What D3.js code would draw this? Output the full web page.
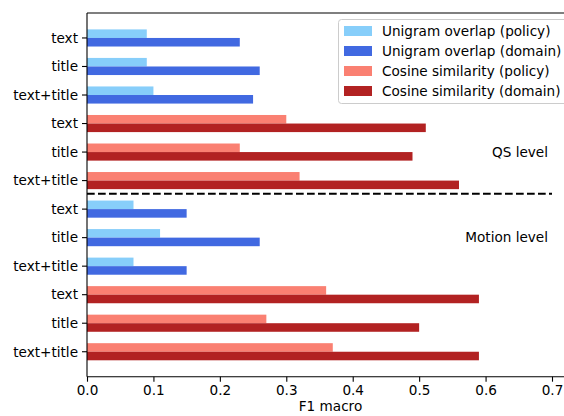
<!DOCTYPE html>
<html><head><meta charset="utf-8">
<script src="https://cdn.jsdelivr.net/npm/d3@7"></script>
<style>body{margin:0;background:#fff}svg{display:block;font-family:"DejaVu Sans",sans-serif}</style>
</head><body><svg id="c" width="564" height="416"></svg>
<script>
const categories = ["text","title","text+title","text","title","text+title","text","title","text+title","text","title","text+title"];
const policyValues = [0.09,0.09,0.10,0.30,0.23,0.32,0.07,0.11,0.07,0.36,0.27,0.37];
const domainValues = [0.23,0.26,0.25,0.51,0.49,0.56,0.15,0.26,0.15,0.59,0.50,0.59];
const groupType = ["uni","uni","uni","cos","cos","cos","uni","uni","uni","cos","cos","cos"];
const xTicks = [0,0.1,0.2,0.3,0.4,0.5,0.6,0.7];
const legendLabels = ["Unigram overlap (policy)","Unigram overlap (domain)","Cosine similarity (policy)","Cosine similarity (domain)"];
const levelLabels = ["QS level","Motion level"];
const separatorPos = 5.46;

(function(){
const colors = {uni:["#87CEFA","#4169E1"], cos:["#FA8072","#B22222"]};
const legendColors = ["#87CEFA","#4169E1","#FA8072","#B22222"];
const fs = "13.6px";

const svg = d3.select("#c");
const mLeft = 87, mTop = 13, mBottom = 376.7, mRight = 574;
const x = d3.scaleLinear().domain([0,0.7]).range([mLeft,552]);
const y = d3.scaleLinear().domain([-0.875, 11.875]).range([mTop,mBottom]);
const bh = y(0.3)-y(0);

const g = svg.append("g");
categories.forEach((c,i)=>{
  g.append("rect").attr("x",x(0)).attr("y",y(i)-bh).attr("width",x(policyValues[i])-x(0)).attr("height",bh).attr("fill",colors[groupType[i]][0]);
  g.append("rect").attr("x",x(0)).attr("y",y(i)).attr("width",x(domainValues[i])-x(0)).attr("height",bh).attr("fill",colors[groupType[i]][1]);
});

svg.append("line").attr("x1",x(0)).attr("x2",x(0.7)).attr("y1",y(separatorPos)).attr("y2",y(separatorPos))
  .attr("stroke","#000").attr("stroke-width",2.1).attr("stroke-dasharray","7.7,3.3");

svg.append("line").attr("x1",mLeft).attr("x2",mLeft).attr("y1",mTop).attr("y2",mBottom).attr("stroke","#000").attr("stroke-width",1.1);
svg.append("line").attr("x1",mLeft).attr("x2",mRight).attr("y1",mTop).attr("y2",mTop).attr("stroke","#000").attr("stroke-width",1.1);

const xa = svg.append("g").attr("transform",`translate(0,${mBottom})`)
  .call(d3.axisBottom(x).tickValues(xTicks).tickFormat(d3.format(".1f")).tickSize(5).tickPadding(4).tickSizeOuter(0));
xa.select(".domain").attr("d",`M${mLeft},0H${mRight}`).attr("stroke","#000").attr("stroke-width",1.1);
xa.selectAll(".tick line").attr("stroke","#000").attr("stroke-width",1.1);
xa.selectAll("text").attr("font-size",fs).attr("fill","#000").attr("font-family","DejaVu Sans");

const ya = svg.append("g").attr("transform",`translate(${mLeft},0)`);
categories.forEach((c,i)=>{
  ya.append("line").attr("x1",-5).attr("x2",0).attr("y1",y(i)).attr("y2",y(i)).attr("stroke","#000").attr("stroke-width",1.1);
  ya.append("text").attr("x",-9).attr("y",y(i)).attr("dy","0.35em").attr("text-anchor","end").attr("font-size",fs).text(c);
});

svg.append("text").attr("x",(mLeft+mRight)/2).attr("y",411).attr("text-anchor","middle").attr("font-size",fs).text("F1 macro");

svg.append("text").attr("x",548).attr("y",y(4)).attr("dy","0.35em").attr("text-anchor","end").attr("font-size",fs).text(levelLabels[0]);
svg.append("text").attr("x",548).attr("y",y(7)).attr("dy","0.35em").attr("text-anchor","end").attr("font-size",fs).text(levelLabels[1]);

const lg = svg.append("g");
lg.append("rect").attr("x",338.5).attr("y",19.5).attr("width",240).attr("height",84).attr("rx",3)
  .attr("fill","#fff").attr("fill-opacity",0.8).attr("stroke","#ccc").attr("stroke-width",1);
legendLabels.forEach((l,i)=>{
  const cy = 31 + i*20;
  lg.append("rect").attr("x",344).attr("y",cy-5).attr("width",28).attr("height",10).attr("fill",legendColors[i]);
  lg.append("text").attr("x",382).attr("y",cy).attr("dy","0.35em").attr("font-size",fs).text(l);
});
})();
</script></body></html>
